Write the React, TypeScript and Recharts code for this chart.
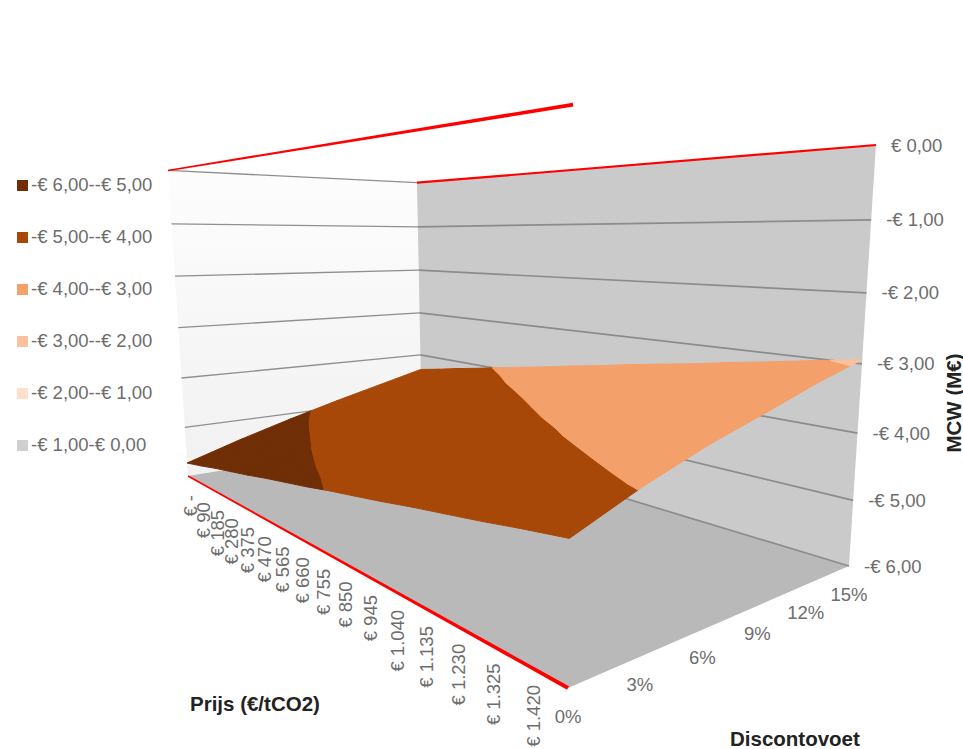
import React from 'react';
import { Legend, Scatter, ScatterChart, XAxis, YAxis } from 'recharts';

// MCW surface: one row per discount rate, one value per CO2 price
const priceLabels = ['€ -', '€ 90', '€ 185', '€ 280', '€ 375', '€ 470', '€ 565', '€ 660', '€ 755', '€ 850', '€ 945', '€ 1.040', '€ 1.135', '€ 1.230', '€ 1.325', '€ 1.420'];
const rateLabels = ['0%', '3%', '6%', '9%', '12%', '15%'];
const mcwLabels = ['€ 0,00', '-€ 1,00', '-€ 2,00', '-€ 3,00', '-€ 4,00', '-€ 5,00', '-€ 6,00'];
const mcwTicks = [0, -1, -2, -3, -4, -5, -6];

const mcwAt0 = [-5.73, -5.64, -5.54, -5.45, -5.36, -5.26, -5.17, -5.08, -4.98, -4.89, -4.8, -4.7, -4.61, -4.52, -4.42, -4.33];
const mcwAt3 = [-5.41, -5.31, -5.22, -5.12, -5.03, -4.93, -4.83, -4.74, -4.64, -4.55, -4.45, -4.35, -4.26, -4.16, -4.06, -3.97];
const mcwAt6 = [-5.12, -5.02, -4.92, -4.83, -4.73, -4.63, -4.54, -4.44, -4.35, -4.25, -4.15, -4.06, -3.96, -3.86, -3.77, -3.67];
const mcwAt9 = [-4.85, -4.75, -4.66, -4.56, -4.47, -4.37, -4.28, -4.18, -4.09, -3.99, -3.89, -3.8, -3.7, -3.61, -3.51, -3.42];
const mcwAt12 = [-4.6, -4.5, -4.41, -4.31, -4.22, -4.12, -4.02, -3.93, -3.83, -3.74, -3.64, -3.54, -3.45, -3.35, -3.25, -3.16];
const mcwAt15 = [-4.35, -4.26, -4.16, -4.07, -3.97, -3.88, -3.79, -3.69, -3.6, -3.5, -3.41, -3.32, -3.22, -3.13, -3.03, -2.94];
const mcwRows = [mcwAt0, mcwAt3, mcwAt6, mcwAt9, mcwAt12, mcwAt15];

const bandFloors = [-6, -5, -4, -3, -2, -1];
const bandNames = ['-€ 6,00--€ 5,00', '-€ 5,00--€ 4,00', '-€ 4,00--€ 3,00', '-€ 3,00--€ 2,00', '-€ 2,00--€ 1,00', '-€ 1,00-€ 0,00'];
const bandColors = ['#702e06', '#a84808', '#f4a06a', '#f9c19e', '#fddfce', '#cfcfcf'];

const WIDTH = 963;
const HEIGHT = 749;
const FONT = '"Liberation Sans", Arial, sans-serif';
const GREY_TEXT = '#6d6d6d';

// perspective of the box: floor corners and the vanishing point of the uprights
const FLOOR = [[188, 476], [568, 688], [849, 566], [422, 437]];
const UP_VANISH = [525, 5625];
const TOP_RIGHT_Y = 145;

const [[x0, y0], [x1, y1], [x2, y2], [x3, y3]] = FLOOR;
const den = (x1 - x2) * (y3 - y2) - (x3 - x2) * (y1 - y2);
const sumX = x0 - x1 + x2 - x3;
const sumY = y0 - y1 + y2 - y3;
const g = (sumX * (y3 - y2) - (x3 - x2) * sumY) / den;
const h = ((x1 - x2) * sumY - sumX * (y1 - y2)) / den;
const upK = ((g + h + 1) * (TOP_RIGHT_Y - y2)) / (UP_VANISH[1] - TOP_RIGHT_Y);

// u: price position 0..1, v: rate position 0..1, mcw in M€
const project = (u: number, v: number, mcw: number) => {
  const t = ((mcw + 6) / 6) * upK;
  const px = (x1 - x0 + g * x1) * u + (x3 - x0 + h * x3) * v + x0 + t * UP_VANISH[0];
  const py = (y1 - y0 + g * y1) * u + (y3 - y0 + h * y3) * v + y0 + t * UP_VANISH[1];
  const w = g * u + h * v + 1 + t;
  return { sx: px / w, sy: py / w };
};

type P3 = [number, number, number];

// keep the part of a polygon on one side of a height
const clipHeight = (poly: P3[], level: number, above: boolean) => {
  const out: P3[] = [];
  poly.forEach((a, i) => {
    const b = poly[(i + 1) % poly.length];
    const aIn = above ? a[2] >= level : a[2] <= level;
    const bIn = above ? b[2] >= level : b[2] <= level;
    if (aIn) out.push(a);
    if (aIn !== bIn) {
      const f = (level - a[2]) / (b[2] - a[2]);
      out.push([a[0] + (b[0] - a[0]) * f, a[1] + (b[1] - a[1]) * f, level]);
    }
  });
  return out;
};

const closed = (pts: { sx: number; sy: number }[]) => [...pts, pts[0]];

const surfaceCells: { color: string; data: { sx: number; sy: number }[] }[] = [];
bandFloors.forEach((floor, b) => {
  mcwRows.slice(0, -1).forEach((row, r) => {
    row.slice(0, -1).forEach((_, c) => {
      const cell: P3[] = [
        [c / 15, r / 5, mcwRows[r][c]],
        [(c + 1) / 15, r / 5, mcwRows[r][c + 1]],
        [(c + 1) / 15, (r + 1) / 5, mcwRows[r + 1][c + 1]],
        [c / 15, (r + 1) / 5, mcwRows[r + 1][c]],
      ];
      const part = clipHeight(clipHeight(cell, floor, true), floor + 1, false);
      if (part.length > 2) {
        surfaceCells.push({ color: bandColors[b], data: part.map((p) => project(p[0], p[1], p[2])) });
      }
    });
  });
});

// rail the price labels hang from, foreshortened like the axis
const priceTick = (i: number) => {
  const f = i / 15;
  const s = f / (f + 1.8 * (1 - f));
  return { sx: 190 + 343 * s, sy: 495 + 190 * s };
};

const priceTickData = priceLabels.map((text, i) => ({ ...priceTick(i), text }));
const rateTickData = rateLabels.map((text, i) => {
  const p = project(1, i / 5, -6);
  return { sx: p.sx, sy: p.sy + 28, text };
});
const mcwTickData = mcwLabels.map((text, i) => {
  const p = project(1, 1, mcwTicks[i]);
  return { sx: p.sx + 15, sy: p.sy, text };
});

const noDot = () => null;

const tickText = (anchor: 'start' | 'middle' | 'end', rotate = false) => (props: any) => (
  <text
    x={props.cx}
    y={props.cy}
    textAnchor={anchor}
    dominantBaseline="central"
    fontFamily={FONT}
    fontSize={18.5}
    fill={GREY_TEXT}
    transform={rotate ? `rotate(-90 ${props.cx} ${props.cy})` : undefined}
  >
    {props.payload.text}
  </text>
);

const titleText = (rotate = false) => (props: any) => (
  <text
    x={props.cx}
    y={props.cy}
    textAnchor={rotate ? 'middle' : 'start'}
    dominantBaseline="central"
    fontFamily={FONT}
    fontSize={20.5}
    fontWeight="bold"
    fill="#222222"
    transform={rotate ? `rotate(-90 ${props.cx} ${props.cy})` : undefined}
  >
    {props.payload.text}
  </text>
);

const area = (pts: { sx: number; sy: number }[], fill: string, stroke = 'none', width = 0) => (
  <Scatter
    data={closed(pts)}
    shape={noDot}
    line={{ fill, stroke, strokeWidth: width }}
    isAnimationActive={false}
    legendType="none"
  />
);

const edge = (a: P3, b: P3, stroke: string, width: number) => (
  <Scatter
    data={[project(a[0], a[1], a[2]), project(b[0], b[1], b[2])]}
    shape={noDot}
    line={{ stroke, strokeWidth: width }}
    isAnimationActive={false}
    legendType="none"
  />
);

// red edges get thicker towards the viewer
const taperedEdge = (a: P3, b: P3, from: number, to: number) => {
  const p = project(a[0], a[1], a[2]);
  const q = project(b[0], b[1], b[2]);
  const len = Math.hypot(q.sx - p.sx, q.sy - p.sy);
  const nx = -(q.sy - p.sy) / len;
  const ny = (q.sx - p.sx) / len;
  const shift = (o: { sx: number; sy: number }, d: number) => ({ sx: o.sx + nx * d, sy: o.sy + ny * d });
  return area([shift(p, from / 2), shift(q, to / 2), shift(q, -to / 2), shift(p, -from / 2)], '#ff0000');
};

const BandLegend = () => (
  <div style={{ position: 'relative', width: 170, height: 312 }}>
    {bandNames.map((name, i) => (
      <div
        key={name}
        style={{
          position: 'absolute',
          top: i * 52,
          left: 0,
          height: 24,
          display: 'flex',
          alignItems: 'center',
          fontFamily: FONT,
          fontSize: 18.5,
          color: GREY_TEXT,
          whiteSpace: 'nowrap',
        }}
      >
        <span style={{ display: 'inline-block', width: 11, height: 11, marginLeft: 17, marginRight: 3, background: bandColors[i] }} />
        {name}
      </div>
    ))}
  </div>
);

const App = () => (
  <div style={{ position: 'absolute', left: 0, top: 0 }}>
    <ScatterChart width={WIDTH} height={HEIGHT} margin={{ top: 0, left: 0, right: 0, bottom: 0 }}>
      <defs>
        <linearGradient id="leftWall" x1="0" y1="0" x2="0" y2="1">
          <stop offset="0%" stopColor="#fdfdfd" />
          <stop offset="100%" stopColor="#f1f1f1" />
        </linearGradient>
      </defs>
      <XAxis type="number" dataKey="sx" domain={[0, WIDTH]} hide />
      <YAxis type="number" dataKey="sy" domain={[0, HEIGHT]} reversed hide />

      {area([project(0, 0, 0), project(0, 1, 0), project(0, 1, -6), project(0, 0, -6)], 'url(#leftWall)')}
      {area([project(0, 1, 0), project(1, 1, 0), project(1, 1, -6), project(0, 1, -6)], '#cacaca')}
      {area([project(0, 0, -6), project(1, 0, -6), project(1, 1, -6), project(0, 1, -6)], '#b9b9b9')}

      {mcwTicks.slice(0, 6).map((z) => (
        <React.Fragment key={`left${z}`}>{edge([0, 0, z], [0, 1, z], '#8f8f8f', 1.3)}</React.Fragment>
      ))}
      {mcwTicks.slice(1).map((z) => (
        <React.Fragment key={`right${z}`}>{edge([0, 1, z], [1, 1, z], '#8c8c8c', 1.7)}</React.Fragment>
      ))}
      {edge([0, 1, 0], [1, 1, 0], '#ff0000', 2.2)}
      {taperedEdge([0, 0, 0], [1, 0, 0], 1.5, 4)}
      {taperedEdge([0, 0, -6], [1, 0, -6], 1.5, 4)}

      {surfaceCells.map((cell, i) => (
        <React.Fragment key={i}>{area(cell.data, cell.color, cell.color, 1)}</React.Fragment>
      ))}

      <Scatter data={priceTickData} shape={tickText('end', true)} isAnimationActive={false} legendType="none" />
      <Scatter data={rateTickData} shape={tickText('middle')} isAnimationActive={false} legendType="none" />
      <Scatter data={mcwTickData} shape={tickText('start')} isAnimationActive={false} legendType="none" />
      <Scatter
        data={[
          { sx: 190, sy: 703, text: 'Prijs (€/tCO2)' },
          { sx: 730, sy: 738, text: 'Discontovoet' },
        ]}
        shape={titleText()}
        isAnimationActive={false}
        legendType="none"
      />
      <Scatter data={[{ sx: 953, sy: 403, text: 'MCW (M€)' }]} shape={titleText(true)} isAnimationActive={false} legendType="none" />

      <Legend
        layout="vertical"
        align="center"
        verticalAlign="middle"
        wrapperStyle={{ left: 0, top: 173, width: 170 }}
        content={<BandLegend />}
      />
    </ScatterChart>
  </div>
);

export default App;
